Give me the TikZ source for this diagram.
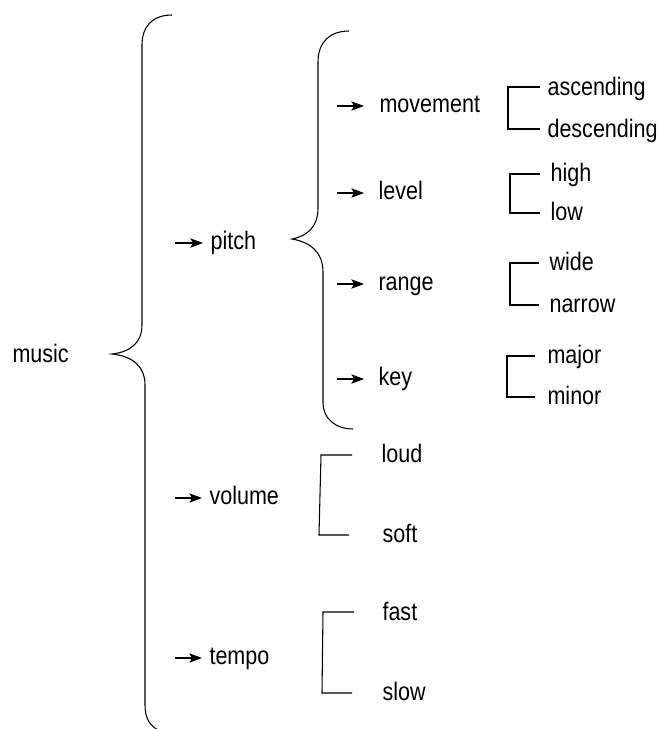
\documentclass[tikz,border=0pt]{standalone}
\usepackage{fontspec}
\setmainfont{Liberation Sans}[FakeStretch=0.85]
\usetikzlibrary{arrows.meta}
\begin{document}
\begin{tikzpicture}[x=0.75pt,y=-0.75pt,
  line width=0.8pt,
  lbl/.style={anchor=base west,inner sep=0pt,font=\fontsize{19}{21}\selectfont},
  arr/.style={-{Stealth[length=9.5pt,width=7pt,inset=2pt]}},
  brk/.style={line width=0.8pt}]
\useasboundingbox (0,0) rectangle (660,729);
% text nodes
\node[lbl] (music) at (12,362) {music};
\node[lbl] (pitch) at (210,249) {pitch};
\node[lbl] (volume) at (209,504) {volume};
\node[lbl] (tempo) at (209,664) {tempo};
\node[lbl] (movement) at (379,112) {movement};
\node[lbl] (level) at (378,199) {level};
\node[lbl] (range) at (378,290) {range};
\node[lbl] (key) at (378,385) {key};
\node[lbl] (asc) at (547,95) {ascending};
\node[lbl] (desc) at (547,137) {descending};
\node[lbl] (high) at (550,181) {high};
\node[lbl] (low) at (550,220) {low};
\node[lbl] (wide) at (549,270) {wide};
\node[lbl] (narrow) at (549,312) {narrow};
\node[lbl] (major) at (547,363) {major};
\node[lbl] (minor) at (547,404) {minor};
\node[lbl] (loud) at (381,462) {loud};
\node[lbl] (soft) at (382,542) {soft};
\node[lbl] (fast) at (382,620) {fast};
\node[lbl] (slow) at (382,700) {slow};
% arrow coordinates
\coordinate (pa) at (175,243); \coordinate (pb) at (203,243);
\coordinate (va) at (175,498); \coordinate (vb) at (202,498);
\coordinate (ta) at (175,658); \coordinate (tb) at (202,658);
\coordinate (ma) at (337,106); \coordinate (mb) at (364,106);
\coordinate (la) at (337,193); \coordinate (lb) at (364,193);
\coordinate (ra) at (337,284); \coordinate (rb) at (364,284);
\coordinate (ka) at (337,379); \coordinate (kb) at (364,379);
\foreach \a/\b in {pa/pb,va/vb,ta/tb,ma/mb,la/lb,ra/rb,ka/kb}
  \draw[arr] (\a) -- (\b);
% big brace
\draw (172,15) .. controls (152,15) and (142,27) .. (142,45)
  -- (142,325) .. controls (142,343) and (130,352) .. (112,354)
  .. controls (132,356) and (145,366) .. (145,385)
  -- (145,705) .. controls (145,717) and (149,725) .. (158,730);
% pitch brace
\draw (349,31) .. controls (330,31) and (318,42) .. (318,62)
  -- (318,208) .. controls (318,226) and (308,236) .. (292,239)
  .. controls (310,242) and (323,252) .. (323,272)
  -- (323,403) .. controls (323,418) and (335,429) .. (353,429);
% small brackets
\draw[brk] (540,87) -- (508,87) -- (508,129) -- (540,129);
\draw[brk] (540,174) -- (510,174) -- (510,213) -- (540,213);
\draw[brk] (539,263) -- (510,263) -- (510,305) -- (539,305);
\draw[brk] (535,356) -- (507,356) -- (507,397) -- (535,397);
\draw[brk] (352,455) -- (321,455) -- (319,535) -- (349,535);
\draw[brk] (354,612) -- (323,612) -- (322,693) -- (352,693);
\end{tikzpicture}
\end{document}
